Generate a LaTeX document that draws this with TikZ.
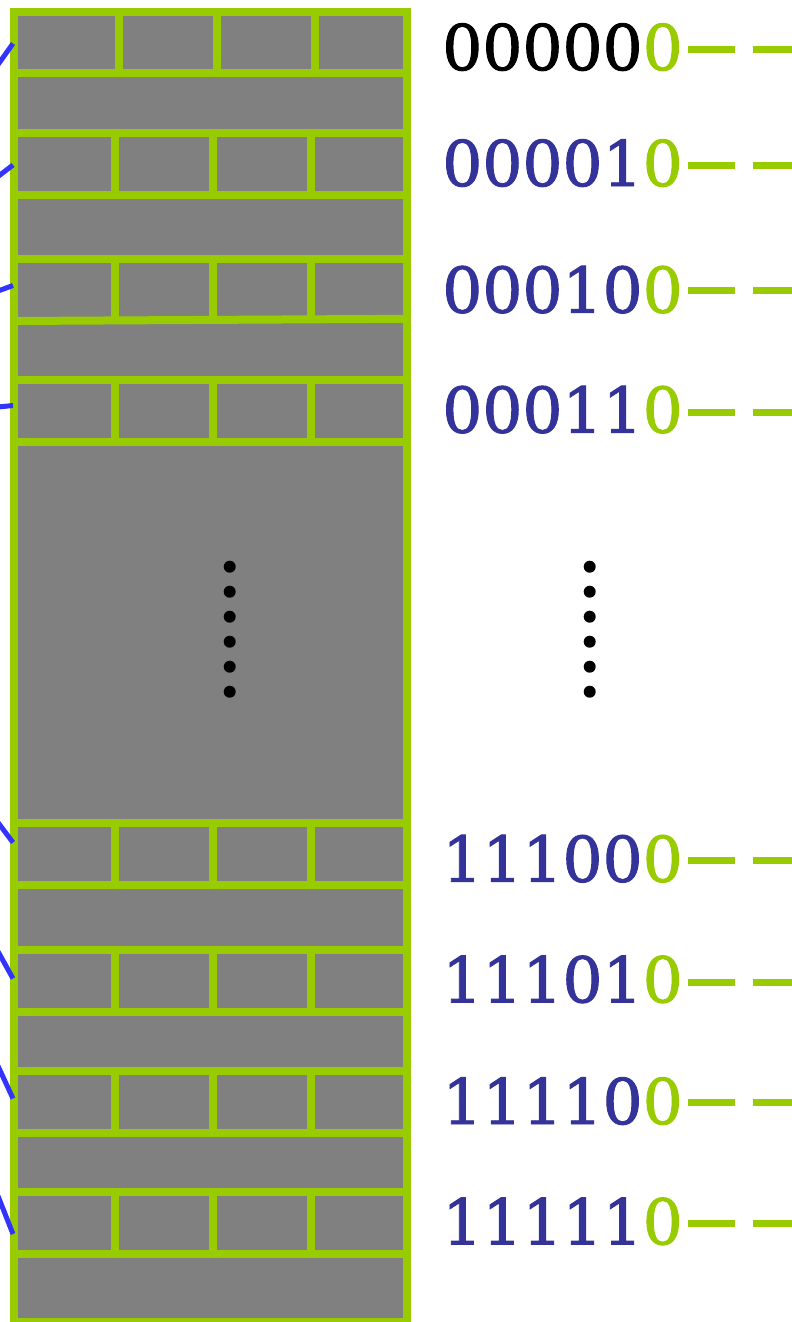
\documentclass[tikz,border=0pt]{standalone}
\usepackage{fontspec}
\newfontfamily\labfont[FakeBold=1.5]{DejaVu Serif}
\definecolor{lime}{HTML}{99CC00}
\definecolor{navy}{HTML}{333399}
\definecolor{wire}{HTML}{3333FF}
\definecolor{brick}{HTML}{808080}
\begin{document}
\begin{tikzpicture}[x=1pt,y=-1pt,
  mortar/.style={draw=lime,line width=8pt},
  wirestyle/.style={draw=wire,line width=5pt},
  lab/.style={font=\labfont\fontsize{63}{63}\selectfont,inner sep=0pt,anchor=base east,text=navy},
  tail/.style={draw=lime,line width=7pt,dash pattern=on 47pt off 18pt},
  dotstyle/.style={fill=black,circle,inner sep=0pt,minimum size=12pt}
]
\useasboundingbox (0,0) rectangle (792,1322);
\clip (0,0) rectangle (792,1322);
% wall
\fill[brick] (13.8,12.3) rectangle (407,1321.7);
\foreach \y in {73,133,195,259,380.3,441.7,823.3,885.3,949.7,1011.7,1071,1133,1192,1253.7}
  \draw[mortar] (13.8,\y) -- (407,\y);
\draw[mortar] (13.8,321) -- (407,318.8);
\foreach \x in {119,217,315}
  \draw[mortar] (\x,12.3) -- (\x,73);
\foreach \a/\b in {133/195,259/320,380.3/441.7,823.3/885.3,949.7/1011.7,1071/1133,1192/1253.7}
  \foreach \x in {115,213,311}
    \draw[mortar] (\x,\a) -- (\x,\b);
\draw[mortar] (13.8,12.3) rectangle (407,1321.7);
% wires
\foreach \i/\xa/\ya/\xb/\yb in {1/-2/64.6/13/43.5,2/-2/176.5/13/165,3/-2/291/13/285.5,4/-2/407/13/405.5,
  5/-2/822.5/13/842.5,6/-2/951.5/13/978.5,7/-2/1066/13/1098.5,8/-2/1196/13/1234}{
  \coordinate (wo\i) at (\xa,\ya);
  \coordinate (wi\i) at (\xb,\yb);
  \draw[wirestyle] (wo\i) -- (wi\i);
}
% dots
\foreach \i/\y in {1/566.7,2/591.7,3/616.7,4/641.7,5/666.7,6/691.7}{
  \node[dotstyle] (dl\i) at (229.7,\y) {};
  \node[dotstyle] (dr\i) at (589.7,\y) {};
}
% labels
\node[lab,text=black] (l1) at (683,70) {00000\textcolor{lime}{0}};
\node[lab] (l2) at (683,186) {00001\textcolor{lime}{0}};
\node[lab] (l3) at (683,312.6) {00010\textcolor{lime}{0}};
\node[lab] (l4) at (683,432.6) {00011\textcolor{lime}{0}};
\node[lab] (l5) at (683,881.7) {11100\textcolor{lime}{0}};
\node[lab] (l6) at (683,1002.3) {11101\textcolor{lime}{0}};
\node[lab] (l7) at (683,1124) {11110\textcolor{lime}{0}};
\node[lab] (l8) at (683,1244.3) {11111\textcolor{lime}{0}};
% tails
\foreach \i/\y in {1/49.7,2/165.3,3/290.3,4/412,5/860.3,6/982,7/1102.7,8/1223.7}{
  \coordinate (ts\i) at (688,\y);
  \coordinate (te\i) at (800,\y);
  \draw[tail] (ts\i) -- (te\i);
}
\end{tikzpicture}
\end{document}
